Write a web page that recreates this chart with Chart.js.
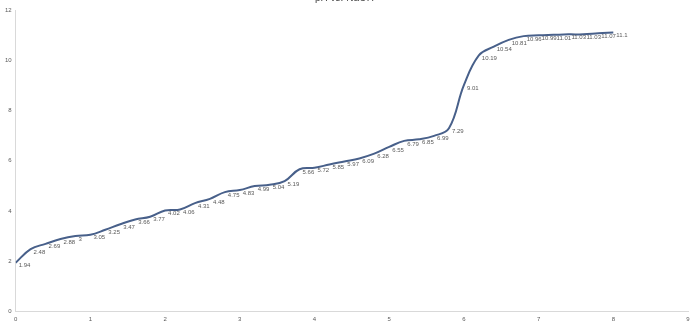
<!DOCTYPE html>
<html>
<head>
<meta charset="utf-8">
<script src="https://cdn.jsdelivr.net/npm/chart.js@4"></script>
<style>
  html, body { margin: 0; padding: 0; background: #fff; overflow: hidden; }
  #wrap { position: absolute; left: 0; top: -10px; width: 700px; height: 347px; }
</style>
</head>
<body>
<div id="wrap"><canvas id="phChart"></canvas></div>
<script>
// volume de NaOH (mL) e pH lido em cada ponto
const volumes = [0, 0.2, 0.4, 0.6, 0.8, 1, 1.2, 1.4, 1.6, 1.8, 2, 2.2, 2.4, 2.6, 2.8, 3, 3.2, 3.4, 3.6, 3.8,
                 4, 4.2, 4.4, 4.6, 4.8, 5, 5.2, 5.4, 5.6, 5.8, 6, 6.2, 6.4, 6.6, 6.8, 7, 7.2, 7.4, 7.6, 7.8, 8];
const phValues = [1.94, 2.48, 2.69, 2.88, 3, 3.05, 3.25, 3.47, 3.66, 3.77, 4.02, 4.06, 4.31, 4.48, 4.75, 4.83, 4.99, 5.04, 5.19, 5.66,
                  5.72, 5.85, 5.97, 6.09, 6.28, 6.55, 6.79, 6.85, 6.99, 7.29, 9.01, 10.19, 10.54, 10.81, 10.96, 10.99, 11.01, 11.03, 11.03, 11.07, 11.1];
const yTicks = [0, 2, 4, 6, 8, 10, 12];
const xTicks = [0, 1, 2, 3, 4, 5, 6, 7, 8, 9];

// rótulos de dados desenhados junto a cada ponto
const pointLabels = {
    id: 'pointLabels',
    afterDatasetsDraw(chart) {
        const ctx = chart.ctx;
        const meta = chart.getDatasetMeta(0);
        ctx.save();
        ctx.font = '6px "Liberation Sans", Arial, sans-serif';
        ctx.fillStyle = '#595959';
        ctx.textAlign = 'left';
        ctx.textBaseline = 'middle';
        meta.data.forEach((pt, i) => {
            ctx.fillText(String(phValues[i]), pt.x + 3, pt.y + 3);
        });
        ctx.restore();
    }
};

const ctx = document.getElementById('phChart').getContext('2d');
const phChart = new Chart(ctx, {
    type: 'line',
    data: {
        datasets: [{
            label: 'pH',
            data: volumes.map((v, i) => ({ x: v, y: phValues[i] })),
            borderColor: '#48608a',
            borderWidth: 2,
            tension: 0.4,
            pointRadius: 0,
            fill: false
        }]
    },
    options: {
        responsive: true,
        maintainAspectRatio: false,
        animation: false,
        layout: { padding: { left: 1, right: 12, top: 0, bottom: 0 } },
        plugins: {
            legend: { display: false },
            tooltip: { enabled: false },
            title: {
                display: true,
                text: 'pH vs. NaOH',
                color: '#404040',
                font: { size: 10, family: '"Liberation Sans", Arial, sans-serif', weight: 'normal' },
                padding: { top: 2, bottom: 6 }
            }
        },
        scales: {
            x: {
                type: 'linear',
                min: 0,
                max: 9,
                afterBuildTicks: axis => { axis.ticks = xTicks.map(v => ({ value: v })); },
                grid: { display: false, drawTicks: false },
                border: { display: true, color: '#d9d9d9', width: 1 },
                ticks: { color: '#595959', font: { size: 6 }, padding: 4 },
                title: {
                    display: true,
                    text: 'Volume of NaOH (mL)',
                    color: '#404040',
                    font: { size: 7 },
                    padding: { top: 2, bottom: 0 }
                }
            },
            y: {
                min: 0,
                max: 12,
                afterBuildTicks: axis => { axis.ticks = yTicks.map(v => ({ value: v })); },
                grid: { display: false, drawTicks: false },
                border: { display: true, color: '#d9d9d9', width: 1 },
                ticks: { color: '#595959', font: { size: 6 }, padding: 4 }
            }
        }
    },
    plugins: [pointLabels]
});
</script>
</body>
</html>
